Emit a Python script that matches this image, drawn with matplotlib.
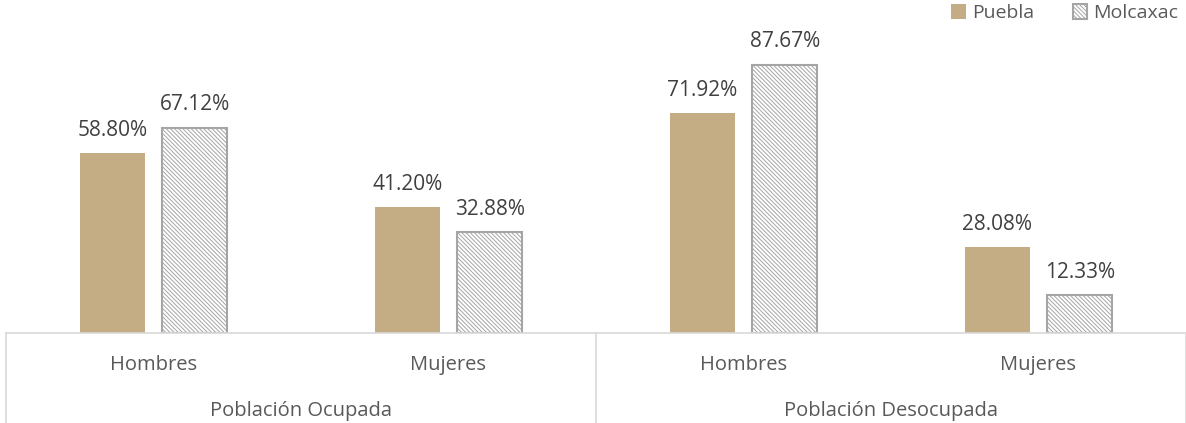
import numpy as np
import matplotlib.pyplot as plt
from matplotlib.lines import Line2D

plt.rcParams['font.family'] = ['Open Sans', 'DejaVu Sans']
plt.rcParams['hatch.color'] = '#595959'
plt.rcParams['hatch.linewidth'] = 0.7

categories = ["Hombres", "Mujeres", "Hombres", "Mujeres"]
groups = ["Población Ocupada", "Población Desocupada"]
puebla = [58.80, 41.20, 71.92, 28.08]
molcaxac = [67.12, 32.88, 87.67, 12.33]

TXT = '#595959'
VAL = '#404040'
GRID = '#d9d9d9'

fig = plt.figure(figsize=(11.86, 4.23), dpi=100)
ax = fig.add_axes([6 / 1186, 1 - 333 / 423, 1180 / 1186, 306 / 423])

x = np.arange(len(categories))
w = 0.22
gap = 0.03
b1 = ax.bar(x - w / 2 - gap, puebla, w, color='#c4ad84', label='Puebla')
b2 = ax.bar(x + w / 2 + gap, molcaxac, w, color='white', edgecolor='#a5a5a5',
            hatch='\\' * 8, linewidth=1.5, label='Molcaxac')

for bars, vals in [(b1, puebla), (b2, molcaxac)]:
    for r, v in zip(bars, vals):
        ax.text(r.get_x() + r.get_width() / 2, v + 4.0, f"{v:.2f}%",
                ha='center', va='bottom', fontsize=15, color=VAL)

ax.set_xlim(-0.5, 3.5)
ax.set_ylim(0, 100)
ax.set_yticks([])
ax.set_xticks([])
for s in ['top', 'right', 'left']:
    ax.spines[s].set_visible(False)
ax.spines['bottom'].set_color(GRID)
ax.spines['bottom'].set_linewidth(1.2)

# category axis labels
for xi, c in zip(x, categories):
    ax.text(xi, -0.105, c, transform=ax.get_xaxis_transform(), ha='center',
            va='center', fontsize=14.5, color=TXT, clip_on=False)
for gi, g in enumerate(groups):
    ax.text(2 * gi + 0.5, -0.255, g, transform=ax.get_xaxis_transform(),
            ha='center', va='center', fontsize=14.5, color=TXT, clip_on=False)

# separators
for xs in [-0.5, 1.5, 3.5]:
    ax.add_line(Line2D([xs, xs], [0, -0.3], transform=ax.get_xaxis_transform(),
                       color=GRID, lw=1.2, clip_on=False))

leg = ax.legend(loc='upper right', bbox_to_anchor=(1.0, 1.1), ncol=2, frameon=False,
                fontsize=14, handlelength=0.75, handleheight=0.75, handletextpad=0.3,
                columnspacing=2.0, borderaxespad=0)
for t in leg.get_texts():
    t.set_color(TXT)

fig.savefig('out.png', dpi=100)
